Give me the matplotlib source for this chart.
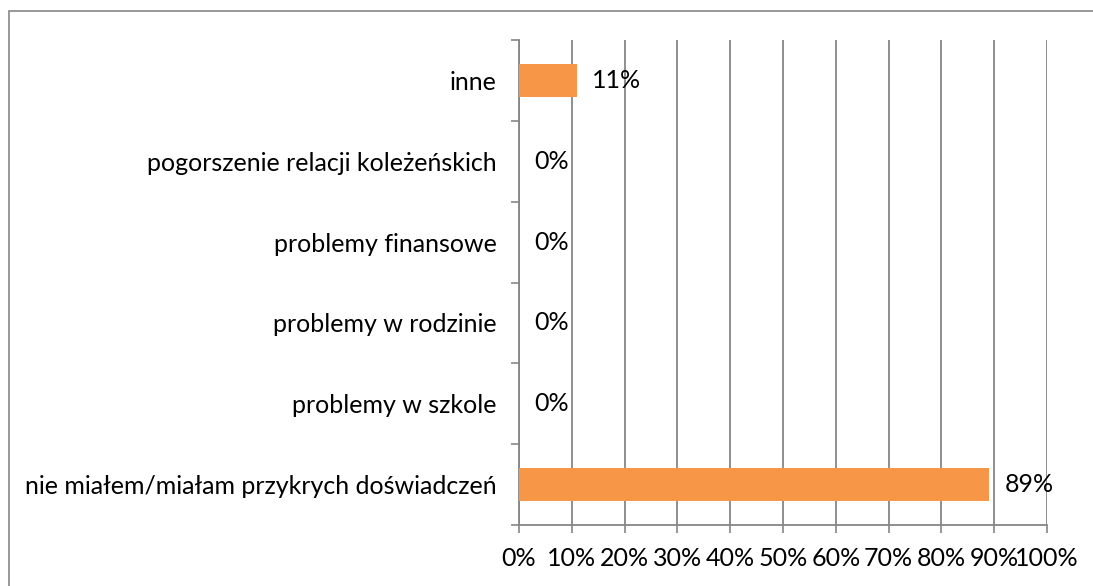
import matplotlib.pyplot as plt
from matplotlib.patches import Rectangle
from matplotlib.ticker import FixedLocator

# Categories listed bottom to top
categories = [
    "nie miałem/miałam przykrych doświadczeń",
    "problemy w szkole",
    "problemy w rodzinie",
    "problemy finansowe",
    "pogorszenie relacji koleżeńskich",
    "inne",
]
values = [89, 0, 0, 0, 0, 11]
x_ticks = list(range(0, 101, 10))

BAR_COLOR = "#F79646"
GRID_COLOR = "#868686"
FS = 18

plt.rcParams["font.family"] = ["Lato", "DejaVu Sans"]

fig = plt.figure(figsize=(10.93, 5.86), dpi=100)
ax = fig.add_axes([0.4748, 0.1041, 0.958 - 0.4748, 0.9317 - 0.1041])

pos = list(range(len(categories)))
ax.barh(pos, values, height=0.4, color=BAR_COLOR, zorder=3)

for y, v in zip(pos, values):
    ax.annotate(f"{v}%", xy=(v, y), xytext=(11, 0), textcoords="offset points",
                va="center", ha="left", fontsize=FS, color="black")

ax.set_xlim(0, 100)
ax.set_ylim(-0.5, len(categories) - 0.5)
ax.set_xticks(x_ticks)
ax.set_xticklabels([f"{t}%" for t in x_ticks], fontsize=FS)
ax.set_yticks(pos)
ax.set_yticklabels(categories, fontsize=FS)
ax.yaxis.set_minor_locator(FixedLocator([p - 0.5 for p in pos] + [len(pos) - 0.5]))

ax.tick_params(axis="y", which="major", length=0, pad=16)
ax.tick_params(axis="y", which="minor", length=6, width=1.2, color=GRID_COLOR)
ax.tick_params(axis="x", length=6, width=1.2, color=GRID_COLOR, pad=10)

ax.xaxis.grid(True, color=GRID_COLOR, linewidth=1.3, zorder=0)
ax.set_axisbelow(True)
for side in ("top", "right"):
    ax.spines[side].set_visible(False)
for side in ("left", "bottom"):
    ax.spines[side].set_color(GRID_COLOR)
    ax.spines[side].set_linewidth(1.3)

# outer chart border (runs off the right and bottom edges)
fig.patches.append(Rectangle((0.0078, -0.05), 1.1, 0.032 + 1.0, transform=fig.transFigure,
                             fill=False, edgecolor=GRID_COLOR, linewidth=1.2))

fig.savefig("out.png", dpi=100)
